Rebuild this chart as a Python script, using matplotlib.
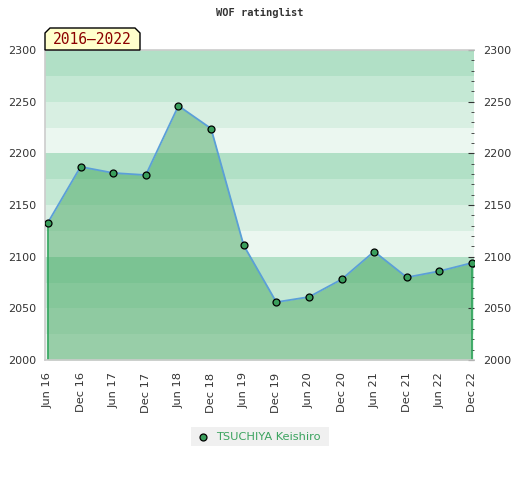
import matplotlib
matplotlib.use("Agg")
import matplotlib.pyplot as plt
from matplotlib.patches import Polygon, Rectangle
from matplotlib.ticker import MultipleLocator
import numpy as np

# ---- data ----
labels = ["Jun 16", "Dec 16", "Jun 17", "Dec 17", "Jun 18", "Dec 18", "Jun 19",
          "Dec 19", "Jun 20", "Dec 20", "Jun 21", "Dec 21", "Jun 22", "Dec 22"]
ratings = [2133, 2187, 2181, 2179, 2246, 2224, 2111,
           2056, 2061, 2078, 2105, 2080, 2086, 2094]
player = "TSUCHIYA Keishiro"
period = "2016\u20132022"
title = "WOF ratinglist"
y_min, y_max = 2000, 2300

x = np.arange(len(labels))

fig = plt.figure(figsize=(5.2, 4.8), dpi=100)
ax = fig.add_axes([45/520, 1-360/480, (474-45)/520, (360-50)/480])

# background bands
band_green = (60/255, 179/255, 113/255)
alphas = [0.1, 0.2, 0.3, 0.4]
for lo in range(y_min, y_max, 25):
    k = ((lo - y_min) // 25) % 4
    ax.axhspan(lo, lo + 25, color=band_green, alpha=alphas[k], lw=0, zorder=0)

# area fill
ax.fill_between(x, y_min, ratings, color=(71/255, 167/255, 98/255), alpha=0.5, lw=0, zorder=1)
ax.vlines([x[0], x[-1]], y_min, [ratings[0], ratings[-1]], color="#2ea35a", lw=1.2, zorder=2)
ax.plot(x, ratings, color="#5b9fd8", lw=1.3, zorder=3)
ax.plot(x, ratings, ls="none", marker="o", ms=5, mfc="#3a9e5c", mec="black", mew=0.9, zorder=4)

ax.set_xlim(-0.09, len(labels) - 1 + 0.06)
ax.set_ylim(y_min, y_max)

ax.set_xticks(x)
ax.set_xticklabels(labels, rotation=90, fontsize=8.2, color="#333333")
ax.tick_params(axis="x", length=0, pad=9)
ax.yaxis.set_major_locator(MultipleLocator(50))
ax.yaxis.set_minor_locator(MultipleLocator(10))
ax.tick_params(axis="y", which="both", left=False, right=True, labelleft=True, labelright=True,
               labelsize=8, labelcolor="#333333", direction="in", color="#333333")
ax.tick_params(axis="y", which="major", length=4, pad=6.3)
ax.tick_params(axis="y", which="minor", length=2.5)

for s in ["left", "bottom", "top"]:
    ax.spines[s].set_color("#cccccc")
    ax.spines[s].set_linewidth(1.2)
ax.spines["right"].set_visible(False)

# title
fig.text(260/520, 1-13/480, title, ha="center", va="center", fontsize=7.5,
         family="DejaVu Sans Mono", weight="bold", color="#333333")

# period badge
bx0, bx1, by0, by1 = 45/520, 140/520, 1-50/480, 1-28/480
c = 5/520
cy = 5/480
badge = Polygon([(bx0, by0), (bx0, by1 - cy), (bx0 + c, by1), (bx1 - c, by1),
                 (bx1, by1 - cy), (bx1, by0)], closed=True, transform=fig.transFigure,
                facecolor="#ffffcc", edgecolor="black", lw=1.0, zorder=10)
fig.patches.append(badge)
fig.text((bx0 + bx1)/2, (by0 + by1)/2 - 0.002, period, ha="center", va="center",
         fontsize=10.5, family="DejaVu Sans Mono", color="#8b0000", zorder=11)

# legend
lx0, lx1, ly0, ly1 = 191/520, 329/520, 1-446/480, 1-427/480
fig.patches.append(Rectangle((lx0, ly0), lx1-lx0, ly1-ly0, transform=fig.transFigure,
                             facecolor="#f0f0f0", edgecolor="none"))
fig.lines.append(plt.Line2D([203/520], [(ly0+ly1)/2], transform=fig.transFigure, marker="o",
                            ms=5, mfc="#3a9e5c", mec="black", mew=0.9, ls="none"))
fig.text(216/520, (ly0+ly1)/2, player, ha="left", va="center", fontsize=8.2, color="#3aa35e")

fig.savefig("out.png", dpi=100)
